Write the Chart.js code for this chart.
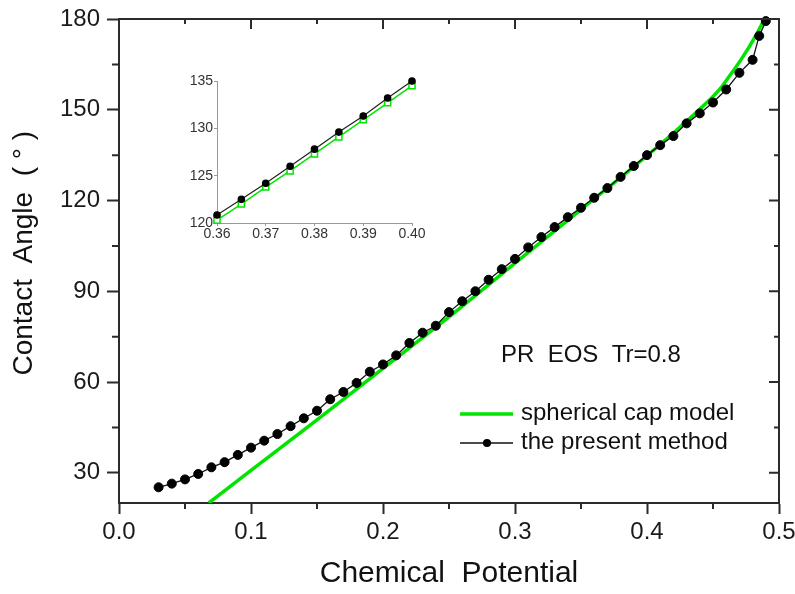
<!DOCTYPE html>
<html lang="en">
<head>
    <meta charset="UTF-8">
    <title>Contact Angle vs Chemical Potential</title>
    <script src="https://cdn.jsdelivr.net/npm/chart.js@4.4.1/dist/chart.umd.min.js"></script>
    <style>
        html, body { margin: 0; padding: 0; background: #fff; }
        .wrap { position: relative; width: 795px; height: 594px; }
        #mainChart { position: absolute; left: 0; top: 0; }
        #insetChart { position: absolute; left: 160px; top: 60px; }
    </style>
</head>
<body>
    <div class="wrap">
        <canvas id="mainChart" width="795" height="594"></canvas>
        <canvas id="insetChart" width="270" height="190"></canvas>
    </div>
    <script>
    // main plot: the present method (black dots)
    var muPresent = [0.03, 0.04, 0.05, 0.06, 0.07, 0.08, 0.09, 0.10, 0.11, 0.12, 0.13, 0.14, 0.15, 0.16,
        0.17, 0.18, 0.19, 0.20, 0.21, 0.22, 0.23, 0.24, 0.25, 0.26, 0.27, 0.28, 0.29, 0.30, 0.31, 0.32,
        0.33, 0.34, 0.35, 0.36, 0.37, 0.38, 0.39, 0.40, 0.41, 0.42, 0.43, 0.44, 0.45, 0.46, 0.47, 0.48,
        0.485, 0.49];
    var anglePresent = [25.2, 26.4, 27.8, 29.6, 31.8, 33.5, 35.9, 38.3, 40.6, 42.8, 45.4, 48.0, 50.5, 54.3,
        56.7, 59.7, 63.4, 65.8, 68.8, 72.9, 76.3, 78.6, 83.1, 86.7, 90.0, 93.8, 97.3, 100.7, 104.5, 107.9,
        111.2, 114.5, 117.6, 120.9, 124.1, 127.8, 131.4, 135.0, 138.3, 141.3, 145.5, 148.8, 152.4, 156.7, 162.2, 166.5,
        174.4, 179.3];

    // main plot: spherical cap model (green curve)
    var muCap = [0.068, 0.10, 0.15, 0.20, 0.25, 0.30, 0.35, 0.40, 0.436, 0.455, 0.464, 0.471, 0.482, 0.489];
    var angleCap = [20.0, 30.8, 47.5, 64.5, 81.5, 99.3, 117.0, 134.8, 148.6, 156.7, 162.1, 166.4, 174.2, 180.0];

    var xTicks = [0, 0.1, 0.2, 0.3, 0.4, 0.5];
    var xMinorTicks = [0.05, 0.15, 0.25, 0.35, 0.45];
    var yTicks = [30, 60, 90, 120, 150, 180];
    var yMinorTicks = [45, 75, 105, 135, 165];

    // inset (zoom on 0.36 - 0.40)
    var muInset = [0.36, 0.365, 0.37, 0.375, 0.38, 0.385, 0.39, 0.395, 0.40];
    var insetPresent = [120.85, 122.5, 124.2, 126.0, 127.8, 129.6, 131.3, 133.2, 135.0];
    var insetCap = [120.3, 122.0, 123.8, 125.5, 127.3, 129.1, 130.9, 132.7, 134.5];
    var insetXTicks = [0.36, 0.37, 0.38, 0.39, 0.40];
    var insetYTicks = [120, 125, 130, 135];

    var FONT = "'Liberation Sans', Arial, sans-serif";
    var GREEN = '#00e400';
    var AXIS = '#2b2b2b';
    Chart.defaults.font.family = FONT;

    function pts(xs, ys) {
        return xs.map(function(x, i) { return { x: x, y: ys[i] }; });
    }

    // top/right mirror ticks, minor ticks, note text and legend
    var frameTicks = {
        id: 'frameTicks',
        afterDraw: function(chart) {
            var ctx = chart.ctx, a = chart.chartArea;
            var sx = chart.scales.x, sy = chart.scales.y;
            ctx.save();
            ctx.strokeStyle = AXIS;
            ctx.lineWidth = 2;
            ctx.beginPath();
            ctx.moveTo(a.left - 1, a.top);
            ctx.lineTo(a.right, a.top);
            ctx.lineTo(a.right, a.bottom + 1);
            xTicks.forEach(function(v) {
                var p = sx.getPixelForValue(v);
                ctx.moveTo(p, a.top); ctx.lineTo(p, a.top + 10);
            });
            xMinorTicks.forEach(function(v) {
                var p = sx.getPixelForValue(v);
                ctx.moveTo(p, a.top); ctx.lineTo(p, a.top + 5);
                ctx.moveTo(p, a.bottom); ctx.lineTo(p, a.bottom + 6);
            });
            yTicks.forEach(function(v) {
                var p = sy.getPixelForValue(v);
                ctx.moveTo(a.right, p); ctx.lineTo(a.right - 10, p);
            });
            yMinorTicks.forEach(function(v) {
                var p = sy.getPixelForValue(v);
                ctx.moveTo(a.right, p); ctx.lineTo(a.right - 5, p);
                ctx.moveTo(a.left, p); ctx.lineTo(a.left - 7, p);
            });
            ctx.stroke();

            // note
            ctx.fillStyle = '#111';
            ctx.font = '24px ' + FONT;
            ctx.textBaseline = 'middle';
            ctx.textAlign = 'left';
            ctx.fillText('PR  EOS  Tr=0.8', 501, 355);

            // legend
            var cap = chart.data.datasets[1], pres = chart.data.datasets[0];
            ctx.strokeStyle = cap.borderColor;
            ctx.lineWidth = cap.borderWidth;
            ctx.beginPath();
            ctx.moveTo(460, 414); ctx.lineTo(513, 414);
            ctx.stroke();
            ctx.fillText(cap.label, 521, 413);

            ctx.strokeStyle = pres.borderColor;
            ctx.lineWidth = pres.borderWidth;
            ctx.beginPath();
            ctx.moveTo(460, 443); ctx.lineTo(513, 443);
            ctx.stroke();
            ctx.fillStyle = pres.pointBackgroundColor;
            ctx.beginPath();
            ctx.arc(487, 443, 4, 0, Math.PI * 2);
            ctx.fill();
            ctx.fillStyle = '#111';
            ctx.fillText(pres.label, 521, 442);
            ctx.restore();
        }
    };

    var mainChart = new Chart(document.getElementById('mainChart'), {
        type: 'line',
        data: {
            datasets: [{
                label: 'the present method',
                data: pts(muPresent, anglePresent),
                borderColor: '#111',
                borderWidth: 1.3,
                pointRadius: 4.5,
                pointBorderWidth: 1,
                pointBackgroundColor: '#000',
                pointBorderColor: '#000',
                tension: 0,
                clip: 6
            }, {
                label: 'spherical cap model',
                data: pts(muCap, angleCap),
                borderColor: GREEN,
                borderWidth: 3.5,
                pointRadius: 0,
                cubicInterpolationMode: 'monotone'
            }]
        },
        options: {
            responsive: false,
            animation: false,
            layout: { padding: { top: 19, right: 16, left: 0, bottom: 0 } },
            plugins: {
                legend: { display: false },
                tooltip: { enabled: false }
            },
            scales: {
                x: {
                    type: 'linear',
                    min: 0,
                    max: 0.5,
                    afterBuildTicks: function(s) { s.ticks = xTicks.map(function(v) { return { value: v }; }); },
                    afterFit: function(s) { s.height = 91; s.paddingLeft = 0; s.paddingRight = 0; },
                    grid: { drawOnChartArea: false, tickLength: 11, tickWidth: 2, tickColor: AXIS },
                    border: { color: AXIS, width: 2 },
                    ticks: {
                        font: { size: 24 },
                        color: '#1a1a1a',
                        padding: 4,
                        maxRotation: 0,
                        callback: function(v) { return v.toFixed(1); }
                    },
                    title: {
                        display: true,
                        text: 'Chemical  Potential',
                        font: { size: 30 },
                        color: '#111',
                        padding: { top: 0, bottom: 2 }
                    }
                },
                y: {
                    min: 20,
                    max: 180,
                    afterBuildTicks: function(s) { s.ticks = yTicks.map(function(v) { return { value: v }; }); },
                    afterFit: function(s) { s.width = 119; s.paddingTop = 0; s.paddingBottom = 0; },
                    grid: { drawOnChartArea: false, tickLength: 12, tickWidth: 2, tickColor: AXIS },
                    border: { color: AXIS, width: 2 },
                    ticks: {
                        font: { size: 24 },
                        color: '#1a1a1a',
                        padding: 7
                    },
                    title: {
                        display: true,
                        text: '  Contact  Angle  ( \u00b0 )',
                        font: { size: 28 },
                        color: '#111',
                        padding: { top: 7, bottom: 0 }
                    }
                }
            }
        },
        plugins: [frameTicks]
    });

    var insetChart = new Chart(document.getElementById('insetChart'), {
        type: 'line',
        data: {
            datasets: [{
                label: 'the present method',
                data: pts(muInset, insetPresent),
                borderColor: '#222',
                borderWidth: 1.2,
                pointRadius: 3.2,
                pointBackgroundColor: '#000',
                pointBorderColor: '#000',
                tension: 0,
                clip: 6
            }, {
                label: 'spherical cap model',
                data: pts(muInset, insetCap),
                borderColor: GREEN,
                borderWidth: 1.5,
                pointStyle: 'rect',
                pointRadius: 4.3,
                pointBorderWidth: 1.5,
                pointBackgroundColor: '#fff',
                pointBorderColor: GREEN,
                tension: 0,
                clip: 6
            }]
        },
        options: {
            responsive: false,
            animation: false,
            layout: { padding: { top: 21, right: 18, left: 0, bottom: 0 } },
            plugins: {
                legend: { display: false },
                tooltip: { enabled: false }
            },
            scales: {
                x: {
                    type: 'linear',
                    min: 0.36,
                    max: 0.40,
                    afterBuildTicks: function(s) { s.ticks = insetXTicks.map(function(v) { return { value: v }; }); },
                    afterFit: function(s) { s.height = 27; s.paddingLeft = 0; s.paddingRight = 0; },
                    grid: { drawOnChartArea: false, tickLength: 3, tickColor: '#999' },
                    border: { color: '#999', width: 1 },
                    ticks: {
                        font: { size: 14 },
                        color: '#333',
                        padding: 0,
                        maxRotation: 0,
                        callback: function(v) { return v.toFixed(2); }
                    }
                },
                y: {
                    min: 120,
                    max: 135,
                    afterBuildTicks: function(s) { s.ticks = insetYTicks.map(function(v) { return { value: v }; }); },
                    afterFit: function(s) { s.width = 57; s.paddingTop = 0; s.paddingBottom = 0; },
                    grid: { drawOnChartArea: false, tickLength: 3, tickColor: '#999' },
                    border: { color: '#999', width: 1 },
                    ticks: {
                        font: { size: 14 },
                        color: '#333',
                        padding: 1
                    }
                }
            }
        }
    });
    </script>
</body>
</html>
